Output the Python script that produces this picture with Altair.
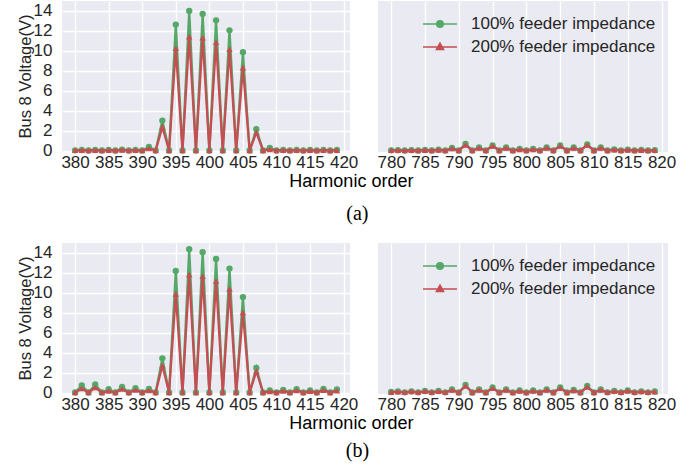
import altair as alt
import pandas as pd

LBL100 = "100% feeder impedance"
LBL200 = "200% feeder impedance"
GREEN = "#55A868"
RED = "#C44E52"
FONT = "Liberation Sans"
TXT = "#262626"

H_LOW = list(range(380, 420))
H_HIGH = list(range(780, 820))

# (a) 380..419
a_low_100 = [0.02, 0.05, 0.0, 0.05, 0.0, 0.06, 0.0, 0.08, 0.0, 0.05,
             0.0, 0.35, 0.0, 3.0, 0.0, 12.63, 0.0, 14.0, 0.0, 13.7,
             0.0, 13.06, 0.0, 12.06, 0.0, 9.86, 0.0, 2.14, 0.0, 0.25,
             0.0, 0.05, 0.0, 0.05, 0.0, 0.05, 0.0, 0.05, 0.0, 0.05]
a_low_200 = [0.02, 0.03, 0.0, 0.03, 0.0, 0.04, 0.0, 0.05, 0.0, 0.03,
             0.0, 0.2, 0.0, 2.37, 0.0, 10.26, 0.0, 11.43, 0.0, 11.33,
             0.0, 10.86, 0.0, 10.16, 0.0, 8.32, 0.0, 1.8, 0.0, 0.1,
             0.0, 0.03, 0.0, 0.03, 0.0, 0.03, 0.0, 0.03, 0.0, 0.03]
# (a) 780..819
a_high_100 = [0.02, 0.03, 0.0, 0.03, 0.0, 0.05, 0.0, 0.08, 0.0, 0.25,
              0.0, 0.65, 0.0, 0.3, 0.0, 0.5, 0.0, 0.3, 0.0, 0.15,
              0.0, 0.15, 0.0, 0.3, 0.0, 0.5, 0.0, 0.3, 0.0, 0.6,
              0.0, 0.3, 0.0, 0.1, 0.0, 0.08, 0.0, 0.05, 0.0, 0.03]
a_high_200 = [0.02, 0.02, 0.0, 0.02, 0.0, 0.04, 0.0, 0.06, 0.0, 0.2,
              0.0, 0.55, 0.0, 0.25, 0.0, 0.45, 0.0, 0.25, 0.0, 0.1,
              0.0, 0.1, 0.0, 0.25, 0.0, 0.45, 0.0, 0.25, 0.0, 0.55,
              0.0, 0.25, 0.0, 0.08, 0.0, 0.06, 0.0, 0.04, 0.0, 0.02]
# (b) 380..419
b_low_100 = [0.0, 0.7, 0.0, 0.8, 0.0, 0.33, 0.0, 0.57, 0.0, 0.43,
             0.0, 0.37, 0.0, 3.43, 0.0, 12.2, 0.0, 14.37, 0.0, 14.07,
             0.0, 13.4, 0.0, 12.43, 0.0, 9.57, 0.0, 2.47, 0.0, 0.2,
             0.0, 0.27, 0.0, 0.33, 0.0, 0.22, 0.0, 0.37, 0.0, 0.3]
b_low_200 = [0.0, 0.4, 0.0, 0.5, 0.0, 0.15, 0.0, 0.35, 0.0, 0.25,
             0.0, 0.2, 0.0, 2.7, 0.0, 9.9, 0.0, 11.83, 0.0, 11.67,
             0.0, 11.2, 0.0, 10.4, 0.0, 8.03, 0.0, 2.13, 0.0, 0.1,
             0.0, 0.15, 0.0, 0.2, 0.0, 0.12, 0.0, 0.22, 0.0, 0.18]
# (b) 780..819
b_high_100 = [0.05, 0.1, 0.02, 0.12, 0.02, 0.15, 0.02, 0.15, 0.02, 0.3,
              0.0, 0.75, 0.0, 0.3, 0.0, 0.5, 0.0, 0.3, 0.0, 0.2,
              0.0, 0.2, 0.0, 0.3, 0.0, 0.5, 0.0, 0.25, 0.0, 0.65,
              0.0, 0.3, 0.02, 0.15, 0.02, 0.2, 0.02, 0.12, 0.02, 0.1]
b_high_200 = [0.04, 0.08, 0.02, 0.1, 0.02, 0.12, 0.02, 0.12, 0.02, 0.25,
              0.0, 0.65, 0.0, 0.25, 0.0, 0.42, 0.0, 0.25, 0.0, 0.16,
              0.0, 0.16, 0.0, 0.25, 0.0, 0.42, 0.0, 0.2, 0.0, 0.55,
              0.0, 0.25, 0.02, 0.12, 0.02, 0.16, 0.02, 0.1, 0.02, 0.08]

X_TICKS_LOW = [380, 385, 390, 395, 400, 405, 410, 415, 420]
X_TICKS_HIGH = [780, 785, 790, 795, 800, 805, 810, 815, 820]
Y_TICKS = [0, 2, 4, 6, 8, 10, 12, 14]

CIRCLE_PATH = "M-1.7,0H1.7M0.33,0A0.33,0.33,0,1,1,-0.33,0A0.33,0.33,0,1,1,0.33,0Z"
TRI_PATH = "M-1.7,0H1.7M0,-0.4L0.36,0.24H-0.36Z"

RES = dict(fill="independent", stroke="independent", shape="independent")


def panel(h, v100, v200, domain, ticks, width, left):
    n = len(h)
    df = pd.DataFrame({"h": h + h, "v": v100 + v200,
                       "series": [LBL100] * n + [LBL200] * n})
    base = alt.Chart(df)
    x = alt.X("h:Q", scale=alt.Scale(domain=domain, nice=False, zero=False),
              axis=alt.Axis(values=ticks, title=None, grid=True, format="d"))
    if left:
        y = alt.Y("v:Q", scale=alt.Scale(domain=[-0.15, 15], nice=False, zero=False),
                  axis=alt.Axis(values=Y_TICKS, title="Bus 8 Voltage(V)", grid=True,
                                titleFontSize=16.5, titleBaseline="alphabetic",
                                titleAlign="center", titleAngle=270,
                                titleX=-32, titleY=75, labelPadding=10))
    else:
        y = alt.Y("v:Q", scale=alt.Scale(domain=[-0.15, 15], nice=False, zero=False),
                  axis=None)
    g = base.transform_filter(alt.datum.series == LBL100)
    r = base.transform_filter(alt.datum.series == LBL200)
    layers = [
        g.mark_line(color=GREEN, strokeWidth=2.3).encode(x=x, y=y),
        g.mark_point(shape="circle", filled=True, size=40, color=GREEN, opacity=1).encode(x=x, y=y),
        r.mark_line(color=RED, strokeWidth=2.3).encode(x=x, y=y),
        r.mark_point(shape="triangle-up", filled=True, size=42, color=RED, opacity=1).encode(x=x, y=y),
    ]
    if not left:
        leg = alt.Legend(title=None, orient="none", legendX=51, legendY=12,
                         symbolSize=400, symbolStrokeWidth=1.5, symbolOpacity=1,
                         labelFontSize=17, labelFont=FONT, labelColor=TXT,
                         labelLimit=0, labelOffset=20, rowPadding=4, padding=0)
        dom = [LBL100, LBL200]
        layers.append(base.mark_point(filled=True, opacity=0).encode(
            x=x, y=y,
            shape=alt.Shape("series:N", scale=alt.Scale(domain=dom, range=[CIRCLE_PATH, TRI_PATH]), legend=leg),
            fill=alt.Fill("series:N", scale=alt.Scale(domain=dom, range=[GREEN, RED]), legend=leg),
            stroke=alt.Stroke("series:N", scale=alt.Scale(domain=dom, range=[GREEN, RED]), legend=leg),
        ))
    return alt.layer(*layers).properties(width=width, height=151)


def row(lo100, lo200, hi100, hi200, caption, cap_offset):
    left = panel(H_LOW, lo100, lo200, [378.05, 420.95], X_TICKS_LOW, 288, True)
    right = panel(H_HIGH, hi100, hi200, [778.05, 820.95], X_TICKS_HIGH, 290, False)
    r = alt.hconcat(left, right, spacing=28, bounds="flush").resolve_scale(**RES).properties(
        title=alt.TitleParams("Harmonic order", orient="bottom", anchor="middle",
                              font=FONT, fontSize=18, fontWeight="normal",
                              color="#000000", offset=3, dx=5))
    return alt.vconcat(r).resolve_scale(**RES).properties(
        title=alt.TitleParams(caption, orient="bottom", anchor="middle",
                              font="Liberation Serif", fontSize=20, fontWeight="normal",
                              color="#000000", offset=cap_offset, dx=11))


chart = alt.vconcat(
    row(a_low_100, a_low_200, a_high_100, a_high_200, "(a)", 13),
    row(b_low_100, b_low_200, b_high_100, b_high_200, "(b)", 8),
    spacing=19,
).resolve_scale(**RES).properties(
    padding={"left": 16, "top": 1, "right": 5, "bottom": 5},
    background="white",
).configure_view(
    fill="#EAEAF2", stroke=None
).configure_axis(
    domain=False, ticks=False, tickSize=0,
    gridColor="white", gridWidth=1.3,
    labelFont=FONT, labelFontSize=17, labelColor=TXT, labelPadding=2,
    titleFont=FONT, titleFontSize=18, titleColor=TXT, titleFontWeight="normal",
    titlePadding=3,
)

chart.save("out.html", embed_options={"renderer": "svg", "actions": False})
